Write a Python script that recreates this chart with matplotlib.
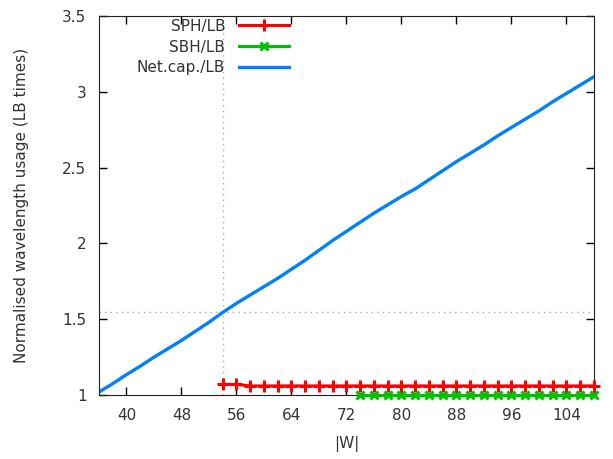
import matplotlib.pyplot as plt
import numpy as np

# blue curve: net capacity / LB
w_net = np.arange(36, 110, 2)
net = [1.02, 1.075, 1.135, 1.19, 1.25, 1.305, 1.36, 1.42, 1.48, 1.545,
       1.605, 1.66, 1.715, 1.77, 1.83, 1.89, 1.955, 2.02, 2.08, 2.14,
       2.20, 2.255, 2.31, 2.36, 2.42, 2.48, 2.54, 2.595, 2.65, 2.71,
       2.765, 2.82, 2.875, 2.935, 2.99, 3.045, 3.10]

w_sph = np.arange(54, 110, 2)
sph = [1.07, 1.07] + [1.06] * 26

w_sbh = np.arange(74, 110, 2)
sbh = [1.00] * 18

xticks = [40, 48, 56, 64, 72, 80, 88, 96, 104]
yticks = [1, 1.5, 2, 2.5, 3, 3.5]
ytick_labels = ['1', '1.5', '2', '2.5', '3', '3.5']

plt.rcParams['font.family'] = 'DejaVu Sans'
fig = plt.figure(figsize=(6.13, 4.59), dpi=100)
ax = fig.add_axes([0.1615, 0.1394, 0.8075, 0.8256])

ax.axvline(54, color='#aaaaaa', ls=(0, (1, 3)), lw=1)
ax.axhline(1.55, color='#aaaaaa', ls=(0, (1, 3)), lw=1)

ax.plot(w_sph, sph, color='#ff0000', lw=2.2, marker='+', ms=9, mew=2.2,
        label='SPH/LB', clip_on=False, zorder=3)
ax.plot(w_sbh, sbh, color='#00c000', lw=2.2, marker='x', ms=6, mew=2.2,
        label='SBH/LB', clip_on=False, zorder=3)
ax.plot(w_net, net, color='#0080ff', lw=2.4, label='Net.cap./LB', zorder=2)

ax.set_xlim(36, 108)
ax.set_ylim(1, 3.5)
ax.set_xticks(xticks)
ax.set_yticks(yticks)
ax.set_yticklabels(ytick_labels)
ax.tick_params(direction='in', top=True, right=True, length=6, width=1,
               labelsize=11, labelcolor='#333333', pad=9)
for s in ax.spines.values():
    s.set_color('#222222')

ax.set_xlabel('|W|', fontsize=11, color='#333333', labelpad=10)
ax.set_ylabel('Normalised wavelength usage (LB times)', fontsize=11,
              color='#333333', labelpad=24)

leg = ax.legend(loc='upper right', bbox_to_anchor=(0.40, 1.013), frameon=False,
                markerfirst=False, fontsize=11, handlelength=3.3,
                labelspacing=0.38, borderaxespad=0.1, handletextpad=0.9)
for t in leg.get_texts():
    t.set_color('#333333')

fig.savefig('out.png', dpi=100)
